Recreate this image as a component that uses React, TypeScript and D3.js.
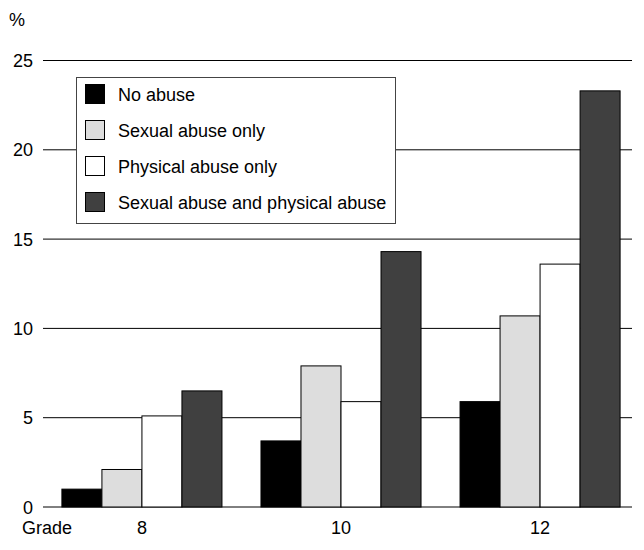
import React from "react";
import * as d3 from "d3";

const grades = ["8", "10", "12"];
const seriesNames = [
  "No abuse",
  "Sexual abuse only",
  "Physical abuse only",
  "Sexual abuse and physical abuse",
];
const seriesColors = ["#000000", "#dddddd", "#ffffff", "#404040"];
const noAbuse = [1.0, 3.7, 5.9];
const sexualOnly = [2.1, 7.9, 10.7];
const physicalOnly = [5.1, 5.9, 13.6];
const both = [6.5, 14.3, 23.3];
const yTicks = [0, 5, 10, 15, 20, 25];

const W = 644;
const H = 550;

export default function App() {
  const values = [noAbuse, sexualOnly, physicalOnly, both];
  const x = d3
    .scaleBand<string>()
    .domain(grades)
    .range([42, 640])
    .paddingInner(0.196)
    .paddingOuter(0.1);
  const xs = d3
    .scaleBand<string>()
    .domain(seriesNames)
    .range([0, x.bandwidth()])
    .padding(0);
  const y = d3.scaleLinear().domain([0, 25]).range([507, 60.5]);
  const font = "'Liberation Sans', Arial, Helvetica, sans-serif";
  const fs = 18;

  return (
    <svg
      width={W}
      height={H}
      style={{ position: "absolute", left: 0, top: 0, fontFamily: font }}
    >
      <rect x={0} y={0} width={W} height={H} fill="#fff" />
      {yTicks.map((t) => (
        <g key={t}>
          <line x1={43} x2={632} y1={y(t)} y2={y(t)} stroke="#000" strokeWidth={1} />
          <text x={33} y={y(t) + 6.5} textAnchor="end" fontSize={fs} fill="#000">
            {t}
          </text>
        </g>
      ))}
      <text x={9} y={26} fontSize={fs} fill="#000">%</text>
      {grades.map((g, gi) => (
        <g key={g}>
          {seriesNames.map((s, si) => {
            const v = values[si][gi];
            const bx = (x(g) as number) + (xs(s) as number);
            return (
              <rect
                key={s}
                x={bx}
                y={y(v)}
                width={xs.bandwidth()}
                height={y(0) - y(v)}
                fill={seriesColors[si]}
                stroke="#000"
                strokeWidth={1}
              />
            );
          })}
          <text
            x={(x(g) as number) + x.bandwidth() / 2}
            y={534}
            textAnchor="middle"
            fontSize={fs}
            fill="#000"
          >
            {g}
          </text>
        </g>
      ))}
      <text x={22} y={534} fontSize={fs} fill="#000">Grade</text>
      <g>
        <rect x={76.5} y={77.5} width={319} height={146} fill="#fff" stroke="#444" strokeWidth={1} />
        {seriesNames.map((s, i) => (
          <g key={s}>
            <rect
              x={85.5}
              y={84.5 + i * 36}
              width={19}
              height={19}
              fill={seriesColors[i]}
              stroke="#000"
              strokeWidth={1}
            />
            <text x={118} y={101 + i * 36} fontSize={fs} fill="#000">
              {s}
            </text>
          </g>
        ))}
      </g>
    </svg>
  );
}
